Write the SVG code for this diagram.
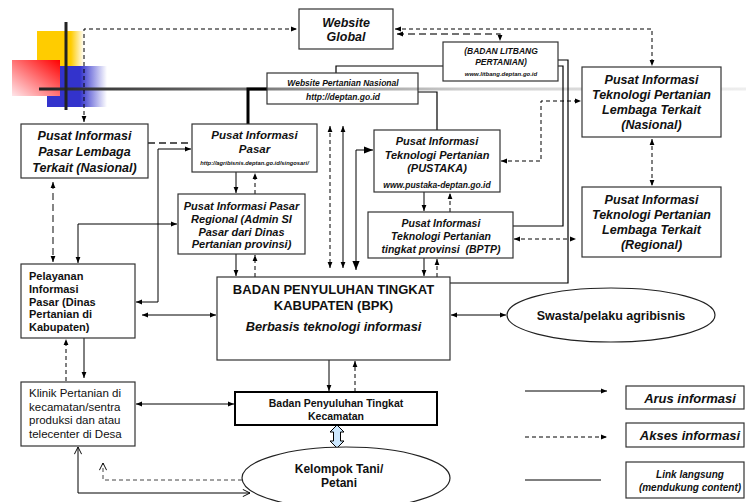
<svg xmlns="http://www.w3.org/2000/svg" width="746" height="502" viewBox="0 0 746 502">
<style>
text{font-family:"Liberation Sans",Arial,sans-serif;fill:#111}
.bi{font-weight:bold;font-style:italic;text-anchor:middle}
.b{font-weight:bold;text-anchor:middle}
.bl{font-weight:bold}
.r{font-weight:normal}
.box{fill:#fff;stroke:#333;stroke-width:1.2}
.s{fill:none;stroke:#000;stroke-width:1}
.d{fill:none;stroke:#000;stroke-width:1;stroke-dasharray:4 3}
.dl{fill:none;stroke:#444;stroke-width:1.3;stroke-dasharray:7 4}
.lk{fill:none;stroke:#000;stroke-width:1.2}
</style>
<defs>
<marker id="a" viewBox="0 0 10 10" refX="10" refY="5" markerWidth="6" markerHeight="6" markerUnits="userSpaceOnUse" orient="auto-start-reverse"><path d="M0,1 L10,5 L0,9 z" fill="#000"/></marker>
<marker id="A" viewBox="0 0 10 10" refX="10" refY="5" markerWidth="9" markerHeight="9" markerUnits="userSpaceOnUse" orient="auto-start-reverse"><path d="M0,1 L10,5 L0,9 z" fill="#000"/></marker>
<marker id="o" viewBox="0 0 10 10" refX="10" refY="5" markerWidth="8" markerHeight="8" markerUnits="userSpaceOnUse" orient="auto-start-reverse"><path d="M1,0.5 L10,5 L1,9.5" fill="none" stroke="#000" stroke-width="1.2"/></marker>
<linearGradient id="gy" x1="0" x2="1" y1="0" y2="0"><stop offset="0" stop-color="#FFCC00"/><stop offset="0.72" stop-color="#FFCC00"/><stop offset="1" stop-color="#FFCC00" stop-opacity="0"/></linearGradient>
<linearGradient id="gb" x1="0" x2="1" y1="0" y2="0"><stop offset="0" stop-color="#3333CC"/><stop offset="0.55" stop-color="#3333CC"/><stop offset="1" stop-color="#3333CC" stop-opacity="0"/></linearGradient>
<linearGradient id="gr" x1="1" y1="0" x2="0" y2="1"><stop offset="0" stop-color="#FF0000"/><stop offset="1" stop-color="#FFE6EA"/></linearGradient>
<linearGradient id="gl" gradientUnits="userSpaceOnUse" x1="39" y1="0" x2="746" y2="0"><stop offset="0" stop-color="#222"/><stop offset="0.3" stop-color="#777"/><stop offset="0.6" stop-color="#ccc"/><stop offset="1" stop-color="#eee"/></linearGradient>
</defs>
<rect width="746" height="502" fill="#fff"/>
<g id="decoration">
<rect x="37" y="31" width="47" height="36" fill="url(#gy)"/>
<rect x="47" y="66" width="60" height="41" fill="url(#gb)"/>
<rect x="12" y="60" width="48" height="36" fill="url(#gr)"/>
<line x1="39" y1="89" x2="746" y2="89" stroke="url(#gl)" stroke-width="3"/>
<line x1="66" y1="22" x2="66" y2="110" stroke="#222" stroke-width="3"/>
</g>
<g id="connectors">
<path class="d" d="M84,122 V29 H297" marker-start="url(#a)" marker-end="url(#a)"/>
<path class="d" d="M395,29 H652 V66" marker-start="url(#a)" marker-end="url(#a)"/>
<path class="dl" d="M397,34 H500 V41" marker-start="url(#a)" marker-end="url(#a)"/>
<path class="lk" d="M443,66 H336 V73"/>
<path class="lk" d="M418,92 H437 V130"/>
<path fill="none" stroke="#000" stroke-width="3" d="M267,89 H248 V124"/>
<path class="lk" d="M558,60 H568 V283 H450"/>
<path class="lk" d="M558,66 H563 V226 H513"/>
<path class="dl" style="stroke:#222" d="M148,143 H192"/>
<path class="s" d="M191,149 H158 V302 H136" marker-start="url(#a)" marker-end="url(#a)"/>
<path class="dl" d="M53,182 V262" marker-start="url(#a)" marker-end="url(#a)"/>
<path class="s" d="M177,224 H78 V263" marker-start="url(#a)" marker-end="url(#a)"/>
<path class="s" d="M236,172 V193" marker-end="url(#a)"/>
<path class="d" d="M255,194 V173" marker-end="url(#a)"/>
<path class="s" d="M236,254 V276" marker-end="url(#a)"/>
<path class="d" d="M255,277 V255" marker-end="url(#a)"/>
<path class="d" d="M330,126 V268" marker-start="url(#a)" marker-end="url(#a)"/>
<path class="s" d="M343,126 V268" marker-start="url(#a)" marker-end="url(#a)"/>
<path class="s" d="M373,150 H356 V270" marker-start="url(#A)" marker-end="url(#A)"/>
<path class="s" d="M424,192 V211" marker-end="url(#a)"/>
<path class="d" d="M450,212 V193" marker-end="url(#a)"/>
<path class="s" d="M424,258 V276" marker-end="url(#a)"/>
<path class="d" d="M437,277 V259" marker-end="url(#a)"/>
<path class="d" d="M501,161 H541 V101 H581" marker-start="url(#a)" marker-end="url(#a)"/>
<path class="d" d="M514,239 H576" marker-start="url(#a)" marker-end="url(#a)"/>
<path class="d" d="M652,139 V186" marker-start="url(#a)" marker-end="url(#a)"/>
<path class="s" d="M451,315 H506" marker-start="url(#a)" marker-end="url(#a)"/>
<path class="s" d="M142,315 H216" marker-start="url(#a)" marker-end="url(#a)"/>
<path class="d" d="M66,381 V339" marker-end="url(#a)"/>
<path class="s" d="M84,338 V378" marker-end="url(#a)"/>
<path class="s" d="M136,404 H234" marker-start="url(#a)" marker-end="url(#a)"/>
<path class="s" d="M329,360 V391" marker-end="url(#a)"/>
<path class="d" d="M355,392 V361" marker-end="url(#a)"/>
<polygon points="337,425 344,432 340.5,432 340.5,441 344,441 337,448 330,441 333.5,441 333.5,432 330,432" fill="#CCE8FF" stroke="#000" stroke-width="1"/>
<path class="s" d="M78,447 V493 H250" marker-start="url(#o)" marker-end="url(#o)"/>
<path class="d" style="stroke:#444" d="M242,480 H103 V463" marker-end="url(#o)"/>
</g>
<g id="website-global">
<rect class="box" x="299" y="9" width="94" height="40"/>
<text class="bi" x="346" y="27" font-size="12.5">Website</text>
<text class="bi" x="346" y="41" font-size="12.5">Global</text>
</g>
<g id="litbang">
<rect class="box" x="443" y="42" width="115" height="39"/>
<text class="bi" x="501" y="54" font-size="8.5">(BADAN LITBANG</text>
<text class="bi" x="501" y="64.5" font-size="8.5">PERTANIAN)</text>
<text class="bi" x="501" y="75.5" font-size="6">www.litbang.deptan.go.id</text>
</g>
<g id="website-nasional">
<rect x="267" y="73" width="151" height="31" fill="none" stroke="#333" stroke-width="1.2"/>
<text class="bi" x="343" y="86" font-size="8.5">Website Pertanian Nasional</text>
<text class="bi" x="343" y="100" font-size="8.5">http://deptan.go.id</text>
</g>
<g id="pasar-lembaga">
<rect class="box" x="21" y="124" width="127" height="54"/>
<text class="bi" x="84.5" y="140" font-size="12.5">Pusat Informasi</text>
<text class="bi" x="84.5" y="156" font-size="12.5">Pasar Lembaga</text>
<text class="bi" x="84.5" y="172" font-size="12.5">Terkait (Nasional)</text>
</g>
<g id="pasar">
<rect class="box" x="192" y="124" width="125" height="48"/>
<text class="bi" x="254.5" y="139" font-size="11.5">Pusat Informasi</text>
<text class="bi" x="254.5" y="153" font-size="11.5">Pasar</text>
<text class="bi" x="254.5" y="165" font-size="5.8">http://agribisnis.deptan.go.id/singosari/</text>
</g>
<g id="pasar-regional">
<rect class="box" x="178" y="194" width="127" height="60"/>
<text class="bi" x="241.5" y="210" font-size="11">Pusat Informasi Pasar</text>
<text class="bi" x="241.5" y="223" font-size="11">Regional (Admin SI</text>
<text class="bi" x="241.5" y="235.5" font-size="11">Pasar dari Dinas</text>
<text class="bi" x="241.5" y="248" font-size="11">Pertanian provinsi)</text>
</g>
<g id="pustaka">
<rect class="box" x="374" y="130" width="126" height="62"/>
<text class="bi" x="437" y="145" font-size="11">Pusat Informasi</text>
<text class="bi" x="437" y="159" font-size="11">Teknologi Pertanian</text>
<text class="bi" x="437" y="172" font-size="11">(PUSTAKA)</text>
<text class="bi" x="437" y="188" font-size="8.5">www.pustaka-deptan.go.id</text>
</g>
<g id="bptp">
<rect class="box" x="368" y="212" width="145" height="46"/>
<text class="bi" x="441" y="226.5" font-size="10.5">Pusat Informasi</text>
<text class="bi" x="441" y="240" font-size="10.5">Teknologi Pertanian</text>
<text class="bi" x="441" y="253" font-size="10.5" xml:space="preserve">tingkat provinsi  (BPTP)</text>
</g>
<g id="tek-nasional">
<rect class="box" x="582" y="67" width="139" height="70"/>
<text class="bi" x="651.5" y="83.5" font-size="12.5">Pusat Informasi</text>
<text class="bi" x="651.5" y="98.5" font-size="12.5">Teknologi Pertanian</text>
<text class="bi" x="651.5" y="113.5" font-size="12.5">Lembaga Terkait</text>
<text class="bi" x="651.5" y="128.5" font-size="12.5">(Nasional)</text>
</g>
<g id="tek-regional">
<rect class="box" x="582" y="187" width="139" height="70"/>
<text class="bi" x="651.5" y="204" font-size="12.5">Pusat Informasi</text>
<text class="bi" x="651.5" y="219" font-size="12.5">Teknologi Pertanian</text>
<text class="bi" x="651.5" y="234" font-size="12.5">Lembaga Terkait</text>
<text class="bi" x="651.5" y="249" font-size="12.5">(Regional)</text>
</g>
<g id="pelayanan">
<rect class="box" x="21" y="264" width="114" height="74"/>
<text class="bl" x="29" y="280" font-size="11">Pelayanan</text>
<text class="bl" x="29" y="292.5" font-size="11">Informasi</text>
<text class="bl" x="29" y="305.5" font-size="11">Pasar (Dinas</text>
<text class="bl" x="29" y="318" font-size="11">Pertanian di</text>
<text class="bl" x="29" y="331" font-size="11">Kabupaten)</text>
</g>
<g id="bpk">
<rect class="box" x="217" y="277" width="233" height="83"/>
<text class="b" x="333.5" y="294" font-size="13">BADAN PENYULUHAN TINGKAT</text>
<text class="b" x="333.5" y="310" font-size="13">KABUPATEN (BPK)</text>
<text class="bi" x="333.5" y="331" font-size="12.8">Berbasis teknologi informasi</text>
</g>
<g id="swasta">
<ellipse cx="611" cy="315" rx="104" ry="27" fill="#fff" stroke="#222" stroke-width="1.2"/>
<text class="b" x="611" y="320" font-size="12.5">Swasta/pelaku agribisnis</text>
</g>
<g id="klinik">
<rect class="box" x="21" y="382" width="114" height="64"/>
<text class="r" x="29" y="397" font-size="11.5">Klinik Pertanian di</text>
<text class="r" x="29" y="410.5" font-size="11.5">kecamatan/sentra</text>
<text class="r" x="29" y="424" font-size="11.5">produksi dan atau</text>
<text class="r" x="29" y="437.5" font-size="11.5">telecenter di Desa</text>
</g>
<g id="kecamatan">
<rect x="235" y="392" width="202" height="33" fill="#fff" stroke="#000" stroke-width="2"/>
<text class="b" x="336" y="407" font-size="10.5">Badan Penyuluhan Tingkat</text>
<text class="b" x="336" y="419.5" font-size="10.5">Kecamatan</text>
</g>
<g id="kelompok-tani">
<ellipse cx="346" cy="478" rx="104" ry="31" fill="#fff" stroke="#222" stroke-width="1.2"/>
<text class="b" x="339" y="473" font-size="12">Kelompok Tani/</text>
<text class="b" x="339" y="487" font-size="12">Petani</text>
</g>
<g id="legend">
<path class="s" d="M525,391 H607" marker-end="url(#a)"/>
<path class="d" d="M525,437 H607" marker-end="url(#a)"/>
<path class="s" d="M525,480 H601"/>
<rect class="box" x="626" y="386" width="118" height="23"/>
<text class="bi" x="690" y="403" font-size="13">Arus informasi</text>
<rect class="box" x="626" y="423" width="118" height="24"/>
<text class="bi" x="690" y="440" font-size="13">Akses informasi</text>
<rect class="box" x="626" y="462" width="118" height="36"/>
<text class="bi" x="690" y="478" font-size="10">Link langsung</text>
<text class="bi" x="690" y="491" font-size="10">(mendukung content)</text>
</g>
</svg>
